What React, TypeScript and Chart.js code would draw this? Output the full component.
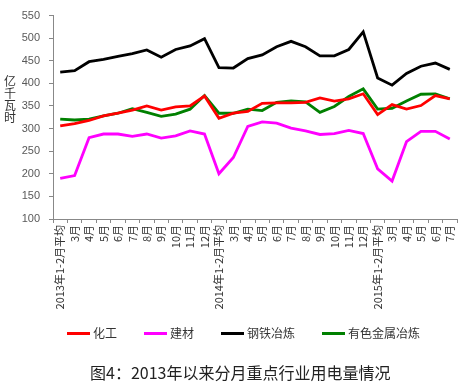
import React, { useEffect, useRef } from "react";
import { Chart, registerables } from "chart.js";

Chart.register(...registerables);

const categories: string[] = [
  "2013年1-2月平均", "3月", "4月", "5月", "6月", "7月", "8月", "9月", "10月", "11月", "12月",
  "2014年1-2月平均", "3月", "4月", "5月", "6月", "7月", "8月", "9月", "10月", "11月", "12月",
  "2015年1-2月平均", "3月", "4月", "5月", "6月", "7月",
];

const chemical: number[] = [306, 311, 318, 328, 334, 341, 350, 341, 348, 350, 372, 323, 334, 338, 356, 357, 357, 358, 368, 361, 366, 377, 331, 353, 343, 351, 373, 366];
const building: number[] = [190, 196, 280, 288, 288, 283, 288, 279, 284, 295, 288, 200, 236, 305, 315, 312, 301, 295, 287, 289, 296, 289, 211, 184, 271, 294, 294, 277];
const steel: number[] = [425, 428, 448, 453, 460, 466, 474, 458, 475, 483, 499, 435, 434, 455, 463, 481, 493, 481, 461, 461, 475, 514, 412, 396, 422, 438, 445, 431];
const nonferrous: number[] = [321, 319, 321, 328, 334, 344, 336, 327, 332, 343, 373, 334, 334, 343, 340, 358, 361, 359, 336, 349, 371, 388, 343, 345, 361, 376, 377, 366];

const seriesNames: string[] = ["化工", "建材", "钢铁冶炼", "有色金属冶炼"];
const seriesColors: string[] = ["#FF0000", "#FF00FF", "#000000", "#008000"];
const yTitleChars: string[] = ["亿", "千", "瓦", "时"];
const caption = "图4：2013年以来分月重点行业用电量情况";

const cjk = "'Noto Sans CJK SC', 'Noto Sans', sans-serif";

export default function App() {
  const ref = useRef<HTMLCanvasElement | null>(null);

  useEffect(() => {
    if (!ref.current) return;
    const values = [chemical, building, steel, nonferrous];
    const chart = new Chart(ref.current, {
      type: "line",
      data: {
        labels: categories,
        datasets: values.map((v, i) => ({
          label: seriesNames[i],
          data: v,
          borderColor: seriesColors[i],
          backgroundColor: seriesColors[i],
          borderWidth: 2.8,
          pointRadius: 0,
          tension: 0,
          fill: false,
        })),
      },
      options: {
        responsive: false,
        animation: false,
        devicePixelRatio: 1,
        layout: { padding: { left: 0, right: 5, top: 9, bottom: 63 } },
        plugins: {
          legend: { display: false },
          tooltip: { enabled: false },
          title: { display: false },
        },
        scales: {
          x: {
            type: "category",
            offset: true,
            grid: {
              display: true,
              offset: true,
              drawOnChartArea: false,
              drawTicks: true,
              tickLength: 4,
              color: "#888888",
            },
            border: { display: true, color: "#888888", width: 1 },
            ticks: {
              autoSkip: false,
              minRotation: 90,
              maxRotation: 90,
              padding: 2,
              color: "#333333",
              font: { family: cjk, size: 11 },
            },
            afterFit: (s: any) => {
              s.height = 100;
              s.paddingLeft = 0;
              s.paddingRight = 0;
            },
          },
          y: {
            min: 100,
            max: 550,
            grid: {
              display: true,
              drawOnChartArea: false,
              drawTicks: true,
              tickLength: 4,
              color: "#888888",
            },
            border: { display: true, color: "#888888", width: 1 },
            ticks: {
              stepSize: 50,
              padding: 9,
              color: "#595959",
              font: { family: "'Liberation Sans', Arial, sans-serif", size: 11 },
            },
            afterFit: (s: any) => {
              s.width = 53;
            },
          },
        },
      },
    });
    return () => chart.destroy();
  }, []);

  return (
    <div style={{ position: "fixed", left: 0, top: 0, width: 462, height: 382, background: "#fff", overflow: "hidden" }}>
      <canvas ref={ref} width={462} height={382} style={{ position: "absolute", left: 0, top: 0, width: 462, height: 382 }} />
      <div style={{ position: "absolute", left: 3, top: 75, width: 14, fontFamily: cjk, fontSize: 12, color: "#333", textAlign: "center" }}>
        {yTitleChars.map((c, i) => (
          <div key={i} style={{ lineHeight: "12px", height: 12, whiteSpace: "nowrap" }}>{c}</div>
        ))}
      </div>
      <div style={{ position: "absolute", left: 67, top: 326, height: 14, display: "flex", alignItems: "center", gap: 27, fontFamily: cjk, fontSize: 12, color: "#333", whiteSpace: "nowrap" }}>
        {seriesNames.map((n, i) => (
          <div key={i} style={{ display: "flex", alignItems: "center" }}>
            <div style={{ width: 23, height: 3, background: seriesColors[i], marginRight: 3 }} />
            <span style={{ lineHeight: "14px" }}>{n}</span>
          </div>
        ))}
      </div>
      <div style={{ position: "absolute", left: 90, top: 362, height: 20, lineHeight: "20px", fontFamily: cjk, fontSize: 16, color: "#222", whiteSpace: "nowrap" }}>
        {caption}
      </div>
    </div>
  );
}
